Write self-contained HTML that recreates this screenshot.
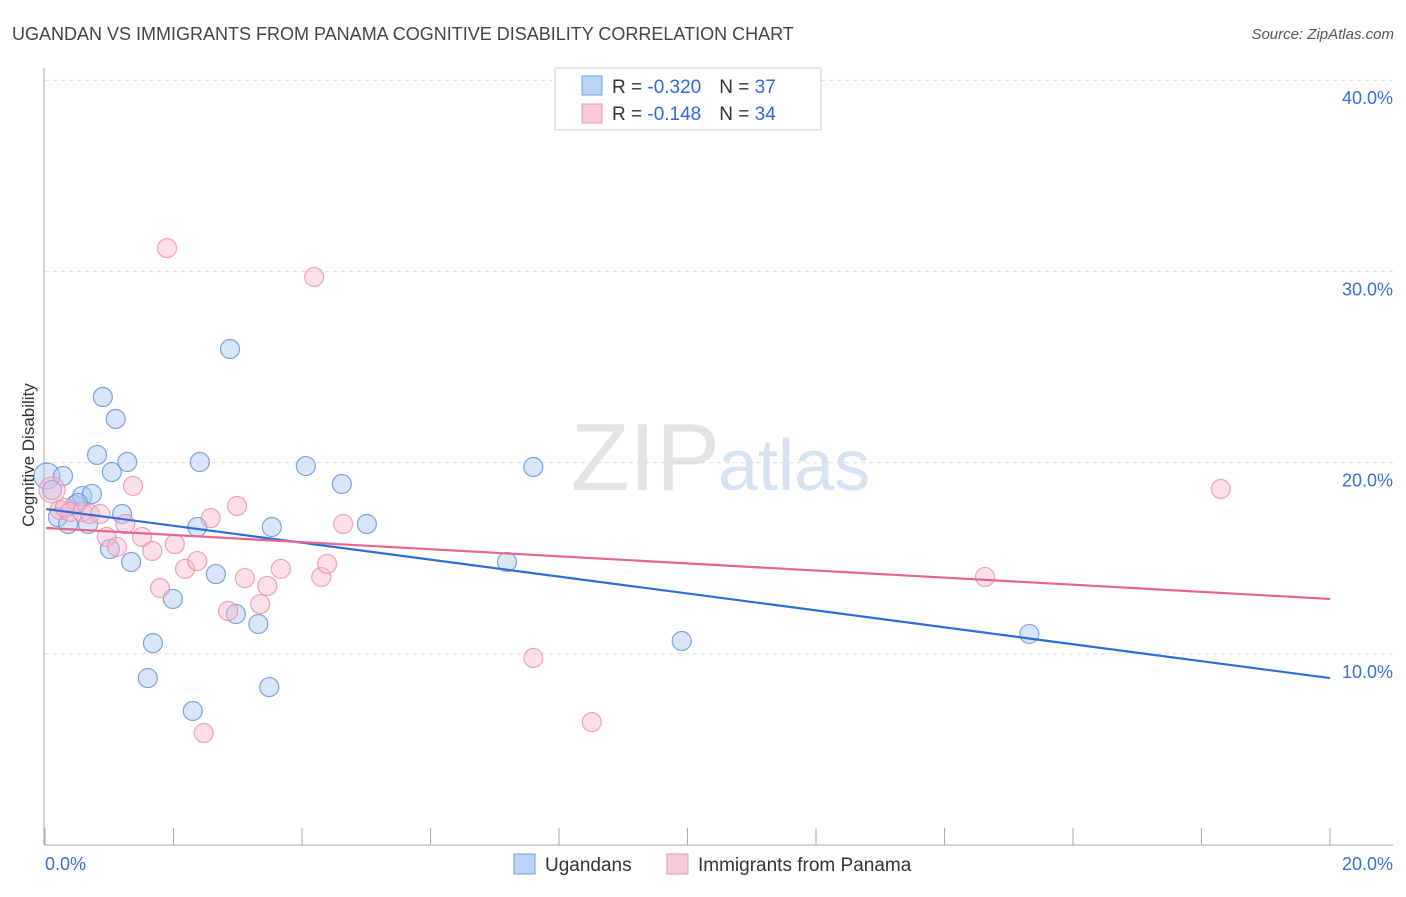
<!DOCTYPE html>
<html><head><meta charset="utf-8"><style>
body{margin:0;background:#fff;font-family:"Liberation Sans",sans-serif}
svg text{font-family:"Liberation Sans",sans-serif}
</style></head><body>
<svg id="c" width="1406" height="892">
<text x="12" y="40" font-size="18" fill="#444">UGANDAN VS IMMIGRANTS FROM PANAMA COGNITIVE DISABILITY CORRELATION CHART</text>
<text x="1394" y="39" font-size="15" fill="#555" font-style="italic" text-anchor="end">Source: ZipAtlas.com</text>
<text x="720" y="490" font-size="96" fill="#e4e4e4" text-anchor="end" font-family="Liberation Serif">ZIP</text>
<text x="718" y="490" font-size="72" fill="#d5e3f5">atlas</text>
<g id="grid"></g>
<g id="axes"></g>
<g id="marks"></g>
<text transform="translate(34,455) rotate(-90)" font-size="17" fill="#333" text-anchor="middle">Cognitive Disability</text>
<g>
<rect x="555" y="68" width="266" height="62" fill="#fff" stroke="#ccc"/>
<rect x="582" y="76" width="20" height="19" fill="#b9d4f5" stroke="#6f9fe0"/>
<text x="612" y="93" font-size="19" fill="#333">R = <tspan fill="#2f6bd6">-0.320</tspan><tspan dx="18">N = </tspan><tspan fill="#2f6bd6">37</tspan></text>
<rect x="582" y="104" width="20" height="19" fill="#fbcad8" stroke="#e995ae"/>
<text x="612" y="120" font-size="19" fill="#333">R =  <tspan fill="#2f6bd6">-0.148</tspan><tspan dx="18">N = </tspan><tspan fill="#2f6bd6">34</tspan></text>
</g>
<g>
<rect x="514" y="854" width="21" height="20" fill="#b9d4f5" stroke="#6f9fe0"/>
<text x="545" y="871" font-size="19" fill="#333">Ugandans</text>
<rect x="667" y="854" width="21" height="20" fill="#fbcad8" stroke="#e995ae"/>
<text x="698" y="871" font-size="19" fill="#333">Immigrants from Panama</text>
</g>
</svg>
<script>
const xTicks=[0,2,4,6,8,10,12,14,16,18,20];
const yTicks=[10,20,30,40];
const yTickLabels=["10.0%","20.0%","30.0%","40.0%"];
const blueX=[0.03,0.28,0.11,0.20,0.36,0.47,0.58,0.73,0.67,0.90,0.81,1.04,1.10,1.28,1.20,1.01,1.34,1.68,1.60,1.99,2.30,2.37,2.41,2.66,2.88,2.97,3.32,3.49,3.53,4.06,4.62,5.01,7.19,7.60,9.91,15.32,0.51];
const blueY=[19.30,19.30,18.57,17.15,16.79,17.78,18.25,18.36,16.79,23.43,20.40,19.51,22.28,20.03,17.31,15.48,14.80,10.56,8.73,12.87,7.01,16.63,20.03,14.17,25.94,12.08,11.56,8.26,16.63,19.82,18.88,16.79,14.80,19.77,10.67,11.04,17.89];
const pinkX=[1.90,4.19,0.11,0.23,0.31,0.39,0.58,0.70,0.86,0.96,1.12,1.25,1.37,1.51,1.67,1.79,2.02,2.18,2.37,2.58,2.47,2.85,2.99,3.11,3.35,3.46,3.67,4.30,4.39,4.64,7.60,8.51,14.63,18.30];
const pinkY=[31.22,29.71,18.57,17.52,17.63,17.42,17.42,17.31,17.31,16.11,15.59,16.79,18.78,16.11,15.38,13.44,15.74,14.44,14.85,17.10,5.86,12.24,17.73,13.96,12.60,13.55,14.44,14.02,14.70,16.79,9.78,6.43,14.02,18.62];
const blueTrend=[17.57,8.73];
const pinkTrend=[16.58,12.87];
const NS="http://www.w3.org/2000/svg";
const X=v=>45+v/20*1285, Y=v=>845-v*19.12;
function mk(t,a,p){const e=document.createElementNS(NS,t);for(const k in a)e.setAttribute(k,a[k]);p.appendChild(e);return e;}
const grid=document.getElementById('grid'),axes=document.getElementById('axes'),marks=document.getElementById('marks');
yTicks.forEach((v,i)=>{
 const l=mk('line',{x1:45,x2:1393,y1:Y(v),y2:Y(v),stroke:'#ddd','stroke-dasharray':'4,4'},grid);
 
 
 const t=mk('text',{x:1393,y:Y(v)+24,'font-size':18,fill:'#3a6fd8','text-anchor':'end'},axes);
 t.textContent=yTickLabels[i];
 
 
});
mk('line',{x1:44,x2:44,y1:68,y2:845,stroke:'#aaa'},axes);
mk('line',{x1:44,x2:1393,y1:845,y2:845,stroke:'#aaa'},axes);
xTicks.forEach(v=>{const l=mk('line',{x1:X(v),x2:X(v),y1:828,y2:845,stroke:'#aaa'},axes);
 
 });
let t0=mk('text',{x:45,y:870,'font-size':18,fill:'#3a6fd8'},axes);t0.textContent='0.0%';


let t1=mk('text',{x:1393,y:870,'font-size':18,fill:'#3a6fd8','text-anchor':'end'},axes);t1.textContent='20.0%';


function pts(xs,ys,fill,stroke,name){xs.forEach((x,i)=>{
 const c=mk('circle',{cx:X(x),cy:Y(ys[i]),r:(i===0&&name==='ugandan-point')||(i===2&&name==='panama-point')?13:9.5,fill:fill,'fill-opacity':0.45,stroke:stroke,'stroke-opacity':0.8,'stroke-width':1.2},marks);
 
 });}
pts(blueX,blueY,'#a9c8f0','#5b8fde','ugandan-point');
pts(pinkX,pinkY,'#f8b8cb','#ea8fab','panama-point');
const bl=mk('line',{x1:X(0.02),y1:Y(blueTrend[0]),x2:X(20),y2:Y(blueTrend[1]),stroke:'#2a6ddb','stroke-width':2.2},marks);


const pl=mk('line',{x1:X(0.02),y1:Y(pinkTrend[0]),x2:X(20),y2:Y(pinkTrend[1]),stroke:'#e7648e','stroke-width':2.2},marks);


</script>
</body></html>
